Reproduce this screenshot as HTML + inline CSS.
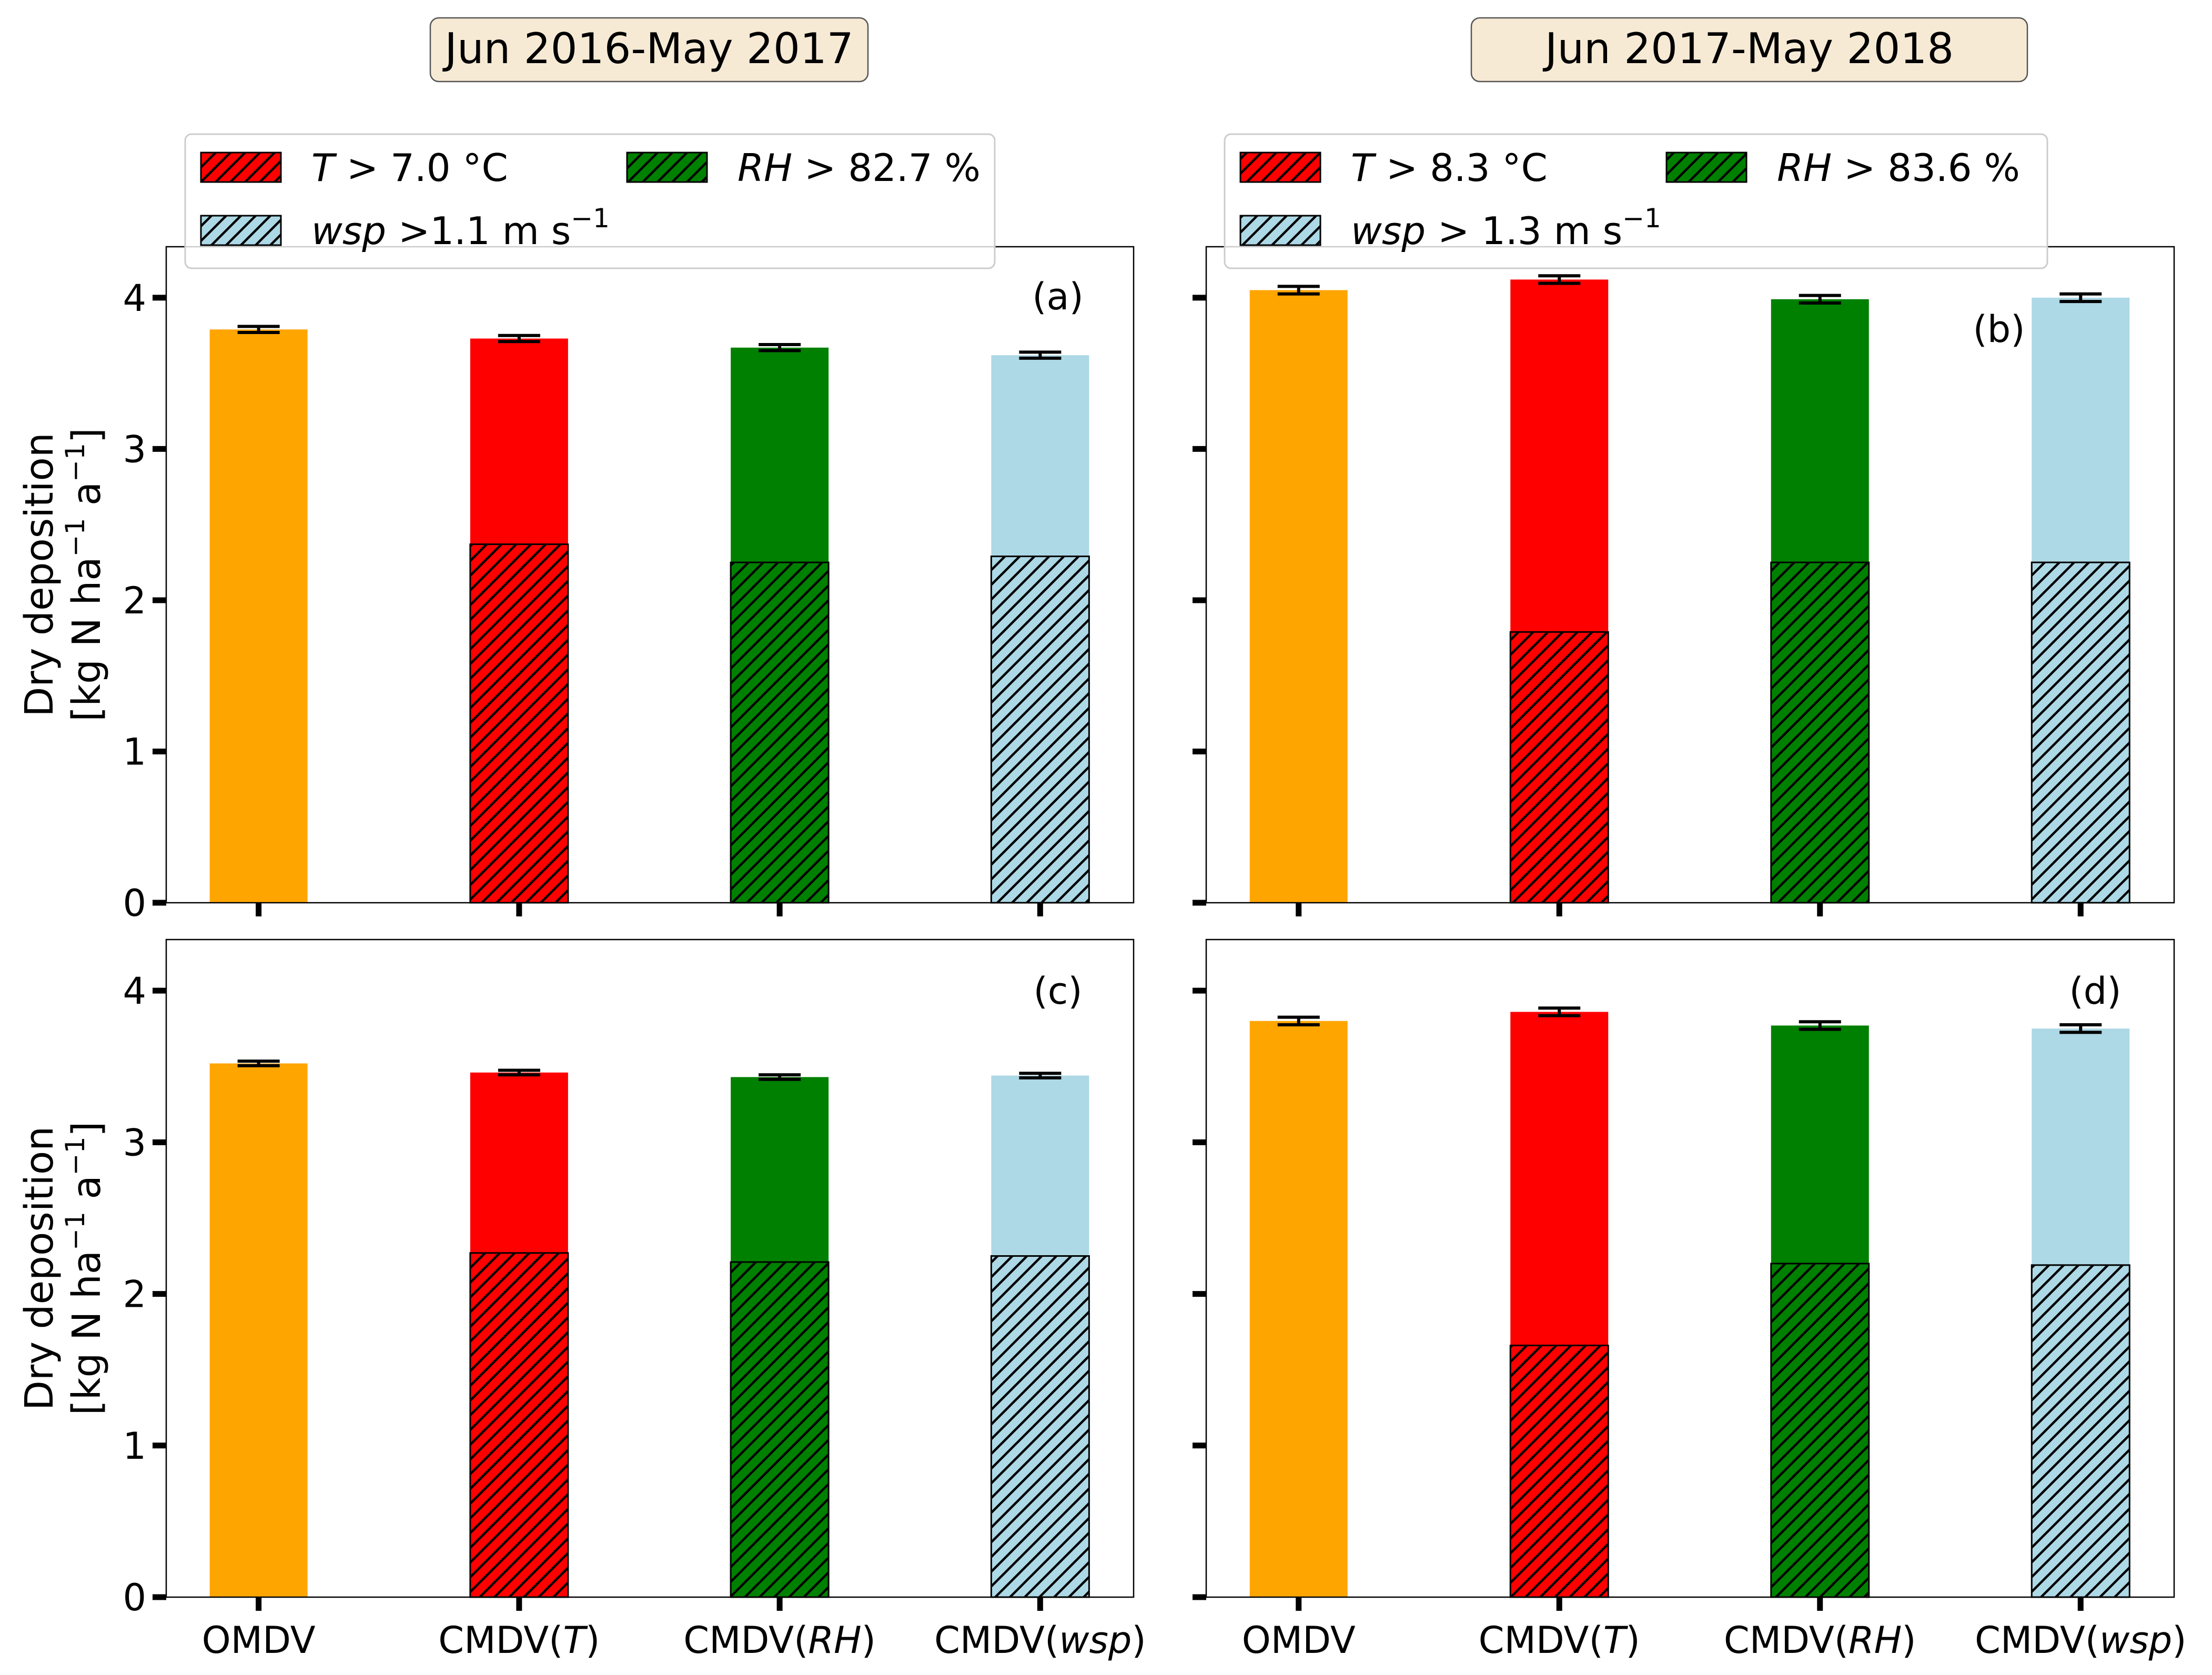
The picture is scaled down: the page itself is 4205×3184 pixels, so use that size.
<!DOCTYPE html>
<html><head><meta charset="utf-8"><style>
html,body{margin:0;padding:0;background:#fff}
svg{display:block;font-family:"DejaVu Sans","Liberation Sans",sans-serif}
</style></head><body>
<svg id="chart" width="4205" height="3184" viewBox="0 0 4205 3184" xmlns="http://www.w3.org/2000/svg">
<defs>
<pattern id="hatch" patternUnits="userSpaceOnUse" width="28" height="28">
<path d="M-7,35 L35,-7 M-14,14 L14,-14 M14,42 L42,14" stroke="#000" stroke-width="4.5"/>
</pattern>
</defs>
<g id="root"></g>
</svg>
<script>
const categories = ["OMDV","CMDV(T)","CMDV(RH)","CMDV(wsp)"];
const totalA = [3.79, 3.73, 3.67, 3.62];
const hatchA = [0, 2.37, 2.25, 2.29];
const errA = [0.02, 0.02, 0.02, 0.02];
const totalB = [4.05, 4.12, 3.99, 4.00];
const hatchB = [0, 1.79, 2.25, 2.25];
const errB = [0.025, 0.025, 0.025, 0.025];
const totalC = [3.52, 3.46, 3.43, 3.44];
const hatchC = [0, 2.27, 2.21, 2.25];
const errC = [0.015, 0.015, 0.015, 0.015];
const totalD = [3.80, 3.86, 3.77, 3.75];
const hatchD = [0, 1.66, 2.20, 2.19];
const errD = [0.025, 0.025, 0.025, 0.025];
const yTicks = [0, 1, 2, 3, 4];
const colors = ["#ffa500", "#ff0000", "#008000", "#add8e6"];

const NS = "http://www.w3.org/2000/svg";
const root = document.getElementById("root");
function el(tag, attrs, parent, text) {
  const e = document.createElementNS(NS, tag);
  for (const k in attrs) e.setAttribute(k, attrs[k]);
  if (text !== undefined) e.textContent = text;
  (parent || root).appendChild(e);
  return e;
}
const YMAX = 4.337;
const panels = [
  {id:"a", x0:316, x1:2155, y0:469, y1:1716, total:totalA, hatch:hatchA, err:errA, ylab:true, xlab:false, lx:2011, ly:588},
  {id:"b", x0:2293, x1:4133, y0:469, y1:1716, total:totalB, hatch:hatchB, err:errB, ylab:false, xlab:false, lx:3800, ly:650},
  {id:"c", x0:316, x1:2155, y0:1786, y1:3036, total:totalC, hatch:hatchC, err:errC, ylab:true, xlab:true, lx:2011, ly:1908},
  {id:"d", x0:2293, x1:4133, y0:1786, y1:3036, total:totalD, hatch:hatchD, err:errD, ylab:false, xlab:true, lx:3983, ly:1908}
];
panels.forEach(p => {
  const g = el("g", {});
  
  
  const W = p.x1 - p.x0;
  const yS = v => p.y1 - v / YMAX * (p.y1 - p.y0);
  const xC = i => p.x0 + W * (0.0955 + i * 0.2693);
  const bw = 186;
  categories.forEach((c, i) => {
    const top = yS(p.total[i]);
    const r = el("rect", {x: xC(i) - bw/2, y: top, width: bw, height: p.y1 - top, fill: colors[i]}, g);
    
    
    if (p.hatch[i] > 0) {
      const ht = yS(p.hatch[i]);
      const h2 = el("rect", {x: xC(i) - bw/2, y: ht, width: bw, height: p.y1 - ht, fill: "url(#hatch)", stroke: "#000", "stroke-width": 3}, g);
      
      
    }
    const e1 = yS(p.total[i] + p.err[i]), e2 = yS(p.total[i] - p.err[i]);
    const eb = el("path", {d: `M${xC(i)},${e1}L${xC(i)},${e2}M${xC(i)-40},${e1}L${xC(i)+40},${e1}M${xC(i)-40},${e2}L${xC(i)+40},${e2}`, stroke: "#000", "stroke-width": 6, fill: "none"}, g);
    
    
    el("line", {x1: xC(i), x2: xC(i), y1: p.y1, y2: p.y1 + 26, stroke: "#000", "stroke-width": 11}, g);
    if (p.xlab) {
      const m = c.match(/^(CMDV\()(.+)(\))$/);
      const t = el("text", {x: xC(i), y: p.y1 + 106, "text-anchor": "middle", "font-size": 70}, g);
      
      
      if (m) {
        el("tspan", {}, t, m[1]);
        el("tspan", {"font-style": "italic"}, t, m[2]);
        el("tspan", {}, t, m[3]);
      } else t.textContent = c;
    }
  });
  yTicks.forEach(v => {
    el("line", {x1: p.x0 - 26, x2: p.x0, y1: yS(v), y2: yS(v), stroke: "#000", "stroke-width": 11}, g);
    if (p.ylab) {
      const t = el("text", {x: p.x0 - 38, y: yS(v) + 25, "text-anchor": "end", "font-size": 70}, g, String(v));
      
      
    }
  });
  const fr = el("rect", {x: p.x0, y: p.y0, width: W, height: p.y1 - p.y0, fill: "none", stroke: "#000", "stroke-width": 2.5}, g);
  
  
  const lab = el("text", {x: p.lx, y: p.ly, "text-anchor": "middle", "font-size": 70}, g, "(" + p.id + ")");
  
  
  if (p.ylab) {
    const cy = (p.y0 + p.y1) / 2;
    const t1 = el("text", {x: 0, y: 0, transform: `translate(100,${cy}) rotate(-90)`, "text-anchor": "middle", "font-size": 74}, g, "Dry deposition");
    
    
    const t2 = el("text", {x: 0, y: 0, transform: `translate(190,${cy}) rotate(-90)`, "text-anchor": "middle", "font-size": 74}, g);
    
    
    el("tspan", {}, t2, "[kg N ha");
    el("tspan", {"font-size": 50, dy: -30}, t2, "−1");
    el("tspan", {dy: 30}, t2, " a");
    el("tspan", {"font-size": 50, dy: -30}, t2, "−1");
    el("tspan", {dy: 30}, t2, "]");
  }
});
// titles
[[818,1650,"Jun 2016-May 2017"],[2797,3854,"Jun 2017-May 2018"]].forEach(([a,b,s]) => {
  const tb = el("rect", {x: a, y: 34, width: b - a, height: 121, rx: 16, fill: "#f7ead5", stroke: "#555", "stroke-width": 2.5});
  
  
  const tt = el("text", {x: (a + b) / 2, y: 120, "text-anchor": "middle", "font-size": 80}, root, s);
  
  
});
// legends
const legends = [
  {x: 352, w: 1539, items: [["T"," > 7.0 °C",1,0,0],["RH"," > 82.7 %",2,810,0],["wsp"," >1.1 m s",3,0,1]]},
  {x: 2328, w: 1564, items: [["T"," > 8.3 °C",1,0,0],["RH"," > 83.6 %",2,810,0],["wsp"," > 1.3 m s",3,0,1]]}
];
legends.forEach(L => {
  const g = el("g", {});
  
  
  el("rect", {x: L.x, y: 255, width: L.w, height: 255, rx: 12, fill: "#fff", "fill-opacity": 0.8, stroke: "#ccc", "stroke-width": 3}, g);
  L.items.forEach(([v, rest, ci, dx, row]) => {
    const x = L.x + 30 + dx, y = 290 + row * 120;
    el("rect", {x: x, y: y, width: 152, height: 56, fill: colors[ci]}, g);
    const sw = el("rect", {x: x, y: y, width: 152, height: 56, fill: "url(#hatch)", stroke: "#000", "stroke-width": 3}, g);
    
    
    const t = el("text", {x: x + 210, y: y + 54, "font-size": 72}, g);
    
    
    el("tspan", {"font-style": "italic"}, t, v);
    el("tspan", {}, t, rest);
    if (row) el("tspan", {"font-size": 50, dy: -32}, t, "−1");
  });
});
</script>
</body></html>
